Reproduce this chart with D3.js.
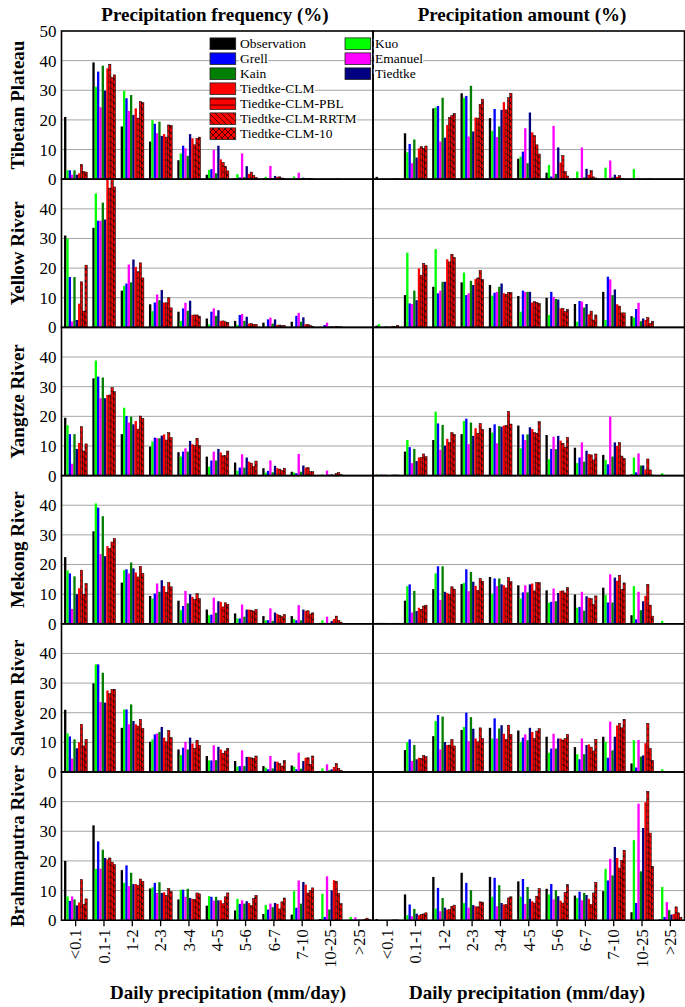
<!DOCTYPE html>
<html>
<head>
<meta charset="utf-8">
<script src="https://cdn.jsdelivr.net/npm/d3@7"></script>
<style>
  body { margin: 0; background: #fff; }
  svg { display: block; font-family: "Liberation Serif", "Times New Roman", serif; }
  svg text { font-family: "Liberation Serif", "Times New Roman", serif; }
</style>
</head>
<body>
<svg id="chart" width="685" height="1007"></svg>
<script>
// ---- data ----
const categories = ["<0.1", "0.1-1", "1-2", "2-3", "3-4", "4-5", "5-6", "6-7", "7-10", "10-25", ">25"];
// bar order inside each group
const seriesNames = ["Observation", "Kuo", "Grell", "Emanuel", "Kain", "Tiedtke",
  "Tiedtke-CLM", "Tiedtke-CLM-PBL", "Tiedtke-CLM-RRTM", "Tiedtke-CLM-10"];
const legendCol1 = ["Observation", "Grell", "Kain", "Tiedtke-CLM", "Tiedtke-CLM-PBL", "Tiedtke-CLM-RRTM", "Tiedtke-CLM-10"];
const legendCol2 = ["Kuo", "Emanuel", "Tiedtke"];
const regions = ["Tibetan Plateau", "Yellow River", "Yangtze River", "Mekong River", "Salween River", "Brahmaputra River"];
const columnTitles = ["Precipitation frequency (%)", "Precipitation amount (%)"];
const xTitle = "Daily precipitation (mm/day)";
const yTicksTop = [0, 10, 20, 30, 40, 50];
const yTicks = [0, 10, 20, 30, 40];

// rows = categories, columns = series (same order as seriesNames)
const tibetanFreq = [
  [21, 3, 3, 1.5, 3, 1.5, 2, 5, 2.6, 2.4],
  [39.4, 31.2, 36.3, 24.3, 38.3, 29.9, 37.4, 38.8, 34.3, 35.2],
  [17.8, 29.8, 27.3, 23, 28.4, 21.7, 23.9, 20.6, 26.2, 25.8],
  [12.7, 19.9, 18.7, 15.5, 19.4, 14.6, 15.2, 14.2, 18.3, 18.1],
  [6.4, 8.7, 11.3, 10.4, 7.9, 15.2, 13.8, 11.6, 13.8, 14.2],
  [1.5, 3.1, 3.4, 9.9, 2, 11.3, 6.7, 5.7, 4.4, 2.8],
  [0.3, 1.7, 0.6, 8.7, 0.7, 4.4, 1.8, 2.4, 1.3, 0.6],
  [0.2, 0.8, 0.3, 4.5, 0.2, 1.1, 0.8, 0.8, 0.4, 0.2],
  [0.1, 0.9, 0.2, 2.2, 0.2, 0.5, 0.3, 0.3, 0.2, 0.1],
  [0, 0.3, 0.1, 0.2, 0.1, 0.1, 0.1, 0.1, 0.1, 0],
  [0, 0, 0, 0, 0, 0, 0, 0, 0, 0]
];
const tibetanAmount = [
  [0.8, 0.1, 0.1, 0.1, 0.1, 0.1, 0.1, 0.1, 0.1, 0.1],
  [15.5, 9.1, 11.9, 5.4, 13.4, 7.3, 10.4, 11, 10.4, 11.2],
  [23.9, 24.2, 24.7, 12.7, 27.5, 14, 18.3, 20.8, 21.5, 22.2],
  [29, 27.5, 28.1, 14.4, 31.5, 16.1, 20.8, 20.6, 25.3, 27],
  [20.6, 16.3, 23.7, 14.2, 17.8, 23.4, 26, 23.4, 27.5, 29],
  [6.9, 7.6, 9.3, 17.2, 5.4, 22.5, 15.8, 14.7, 11.6, 8.5],
  [2.2, 4.8, 0.9, 18, 1.8, 10.7, 5.6, 8, 2.6, 1.1],
  [0.2, 2.6, 0.3, 10.7, 0.6, 3.5, 1.5, 2.9, 0.8, 0.4],
  [0.2, 3.9, 0.3, 6.3, 0.6, 1.5, 0.8, 1.2, 0.3, 0.1],
  [0, 3.4, 0.1, 0.3, 0.1, 0.1, 0.1, 0.1, 0.1, 0],
  [0, 0, 0, 0, 0, 0, 0, 0, 0, 0]
];
const yellowFreq = [
  [31, 30, 17, 2, 17, 2.5, 8, 15.4, 5.5, 21],
  [33.6, 45.2, 36, 36, 42.1, 36.4, 50.3, 47, 50.3, 47.4],
  [12.4, 14, 14.8, 21.2, 15.2, 22.9, 20.4, 18.8, 21.8, 16.7],
  [7.8, 5.5, 8.4, 11.1, 9.2, 12.6, 8.4, 8.3, 10, 6.6],
  [5.3, 2.2, 6.4, 8.3, 5.6, 9, 4.2, 4.2, 4.2, 3.8],
  [3, 1, 5.3, 6.4, 3.9, 5.8, 2.2, 2.2, 1.9, 1.7],
  [2.2, 0.8, 4.2, 4.5, 2.2, 3.6, 1.3, 1.3, 1, 1],
  [1.6, 0.3, 2.7, 3.3, 1.3, 2.7, 0.8, 0.8, 0.6, 0.6],
  [1.9, 0.2, 3.9, 4.9, 1.9, 3.4, 1.1, 1, 0.6, 0.4],
  [0.1, 0.1, 0.8, 1.6, 0.3, 0.4, 0.3, 0.3, 0.2, 0.2],
  [0, 0, 0, 0, 0, 0, 0, 0, 0, 0]
];
const yellowAmount = [
  [0.6, 1.1, 0.2, 0.1, 0.4, 0.2, 0.3, 0.4, 0.3, 0.7],
  [10.9, 25.2, 8.1, 7.9, 12.4, 9.2, 19.9, 17.6, 21.6, 21],
  [13.7, 26.4, 11.5, 12.4, 15.4, 15.4, 23, 22.1, 24.7, 23.6],
  [15.2, 18.5, 10.9, 11.5, 15.7, 14.3, 16.3, 16.7, 19.3, 16.2],
  [14.3, 10.7, 11.7, 12, 13.7, 14.8, 11.5, 11.2, 11.8, 11.8],
  [10.6, 5.3, 12.4, 12, 12, 12, 8.4, 8.7, 8.4, 8.1],
  [10, 4.2, 12, 10.3, 9.6, 9.4, 6.4, 6.4, 5.3, 6.1],
  [7.9, 1.9, 8.9, 8.7, 6.7, 7.9, 4.4, 5.5, 2.5, 4.2],
  [12, 2.5, 17.1, 16.2, 10.9, 12.8, 7.8, 7.2, 4.9, 4.9],
  [3.8, 3.3, 6.2, 8.3, 2.1, 3, 2.5, 3.3, 1.3, 2.1],
  [0, 0, 0, 0, 0, 0, 0, 0, 0, 0]
];
const yangtzeFreq = [
  [19.5, 17, 14, 4, 14, 9, 11, 16.5, 8.3, 10.7],
  [32.8, 38.8, 33.4, 26.1, 33.1, 26.1, 27.2, 27.2, 29.7, 28.3],
  [14, 22.9, 20.1, 17.9, 19.9, 17.3, 18.4, 15.7, 20.1, 19.3],
  [9.8, 11.5, 12.8, 12.6, 12.6, 13.5, 13.9, 12, 14.5, 12.8],
  [7.9, 6.4, 8.1, 9.2, 8.1, 11.7, 10.6, 10.1, 12.6, 10.1],
  [6.4, 3, 5.1, 8.1, 5.1, 9, 7.8, 6.7, 6.7, 8.3],
  [4.4, 1.6, 2.7, 7.2, 2.7, 6.1, 4.7, 4.2, 3, 4.9],
  [2.5, 1, 1.6, 5.1, 1.1, 3.3, 2.5, 2.2, 1.7, 2.5],
  [1.3, 1, 0.8, 7.3, 1.3, 3.4, 2.7, 2.7, 1.3, 1.3],
  [0.2, 0.4, 0.2, 1.7, 0.3, 0.4, 0.3, 0.7, 1, 0.4],
  [0, 0, 0, 0, 0, 0, 0, 0, 0, 0]
];
const yangtzeAmount = [
  [0.3, 0.3, 0.3, 0.3, 0.3, 0.2, 0.2, 0.2, 0.2, 0.2],
  [8.1, 12, 9.6, 4.2, 9, 4.9, 6.1, 6.1, 7.3, 6.4],
  [12, 21.6, 17.6, 8.7, 17.1, 10.1, 12.4, 11.1, 14.5, 13.9],
  [14, 18.4, 19.2, 10.6, 17.9, 13.4, 16, 14.3, 17.6, 15.6],
  [16.1, 14.5, 17.3, 10.9, 16.7, 16.5, 16.9, 16.9, 21.6, 17.4],
  [16.9, 9.2, 13.9, 12, 13.9, 16.3, 15.7, 14.5, 14.3, 18.2],
  [13.7, 5.5, 9, 13.1, 8.9, 13.4, 11.8, 10.9, 9.6, 12.9],
  [9.4, 4.2, 6.1, 11.2, 4.7, 8.4, 7.3, 7, 5.3, 7.3],
  [7, 5.3, 3.8, 19.9, 6.4, 11.2, 10, 11.2, 6.6, 5.8],
  [0.4, 6.1, 1.1, 7.5, 3.4, 3.4, 2.1, 5.6, 1.9, 0.2],
  [0, 0.8, 0, 0, 0, 0, 0, 0, 0, 0]
];
const mekongFreq = [
  [22.5, 18, 17, 5, 16, 10, 12, 18.1, 9.9, 13.6],
  [31.2, 40.6, 39.2, 23.5, 36.3, 22.8, 26.2, 25.4, 27.6, 28.8],
  [13.9, 18.1, 18.4, 17, 20.7, 18.7, 17.3, 15.8, 19.4, 17],
  [9.4, 8.5, 10.2, 13.6, 10.8, 14.7, 12.7, 10.6, 13.9, 12.5],
  [7.8, 4.6, 6, 11.1, 6.9, 10, 9.1, 8.2, 10.2, 8.5],
  [4.8, 2.9, 3.1, 8.8, 3.7, 7.6, 7.4, 5.7, 7.1, 6.6],
  [3.5, 1.8, 1.8, 6.5, 2.4, 4.8, 4.8, 4.6, 4.3, 4.8],
  [2.6, 1.2, 1.2, 5.2, 1, 3.8, 3.3, 2.9, 2.4, 3.1],
  [2.6, 1.6, 1.2, 6.3, 1.2, 4.8, 4.4, 4.4, 3.3, 3.7],
  [0.3, 1.2, 0.3, 2.4, 0.3, 0.9, 1.6, 2.6, 1.2, 0.6],
  [0, 0, 0, 0, 0, 0, 0, 0, 0, 0]
];
const mekongAmount = [
  [0.3, 0.3, 0.3, 0.3, 0.3, 0.2, 0.2, 0.2, 0.2, 0.2],
  [7.8, 12.7, 13.3, 3.8, 11.1, 4.3, 5.4, 4.9, 6, 6.3],
  [11.7, 17, 19.4, 8, 19.4, 10.8, 10.4, 9.9, 12.5, 11.7],
  [13.4, 13.8, 18.4, 11, 17.5, 14.2, 12.8, 11.3, 15.3, 14.4],
  [15.8, 10.2, 15.3, 12.7, 15.3, 13.3, 13, 12.1, 15.6, 14.2],
  [13, 8.5, 10.6, 13, 10.6, 13.3, 13.6, 11.1, 13.9, 13.9],
  [11.3, 7.1, 7.4, 11.9, 7.6, 10.4, 11.1, 11.1, 10.4, 12.2],
  [9.9, 5.4, 5.7, 10.8, 4.4, 9.3, 8.8, 8.5, 6.5, 9.4],
  [12.2, 9.7, 7.2, 16.7, 7.2, 15.6, 14.5, 16.4, 11.6, 13.8],
  [2.9, 12.7, 1.5, 10.8, 4.6, 7.6, 9.4, 13.3, 6.3, 2.6],
  [0, 1, 0, 0.2, 0, 0, 0, 0, 0, 0]
];
const salweenFreq = [
  [21, 13, 12, 4.5, 11, 8, 10, 16.1, 8.8, 11],
  [29.9, 36.3, 36.3, 23.6, 33.5, 23.4, 27.5, 26.4, 27.9, 27.9],
  [14.9, 21.1, 21.1, 16.1, 22.8, 17.2, 16.1, 15.5, 17.8, 14.7],
  [10.2, 11, 12.7, 13, 13.5, 15.2, 11.6, 10.2, 14, 11.6],
  [7.6, 5.7, 8.2, 10.2, 7.6, 11.6, 9.6, 8, 10.7, 9],
  [5.4, 3.9, 3.9, 9, 4, 8.5, 7.6, 6.3, 7.1, 8],
  [3.7, 1.8, 2, 7.3, 2, 5.1, 5.1, 4.8, 4.6, 5.4],
  [2, 1.5, 0.9, 5.4, 1.2, 3.5, 3.5, 2.8, 2, 3.9],
  [2.2, 1.8, 0.9, 6.5, 1.1, 3.7, 4.8, 4.8, 2.6, 5.4],
  [0.2, 1.2, 0.2, 2.6, 0.6, 0.9, 1.7, 2.9, 1.2, 0.6],
  [0, 0, 0, 0, 0, 0, 0, 0, 0, 0]
];
const salweenAmount = [
  [0.2, 0.2, 0.2, 0.2, 0.2, 0.2, 0.2, 0.2, 0.2, 0.2],
  [7.4, 10.1, 11, 3.7, 9.1, 4.3, 4.8, 4.6, 5.6, 5.2],
  [12.1, 17.2, 19.2, 7.6, 18.7, 10.1, 9.1, 9.1, 11, 8.8],
  [14.2, 15.2, 20, 10.4, 18.5, 14.6, 11.3, 10.2, 14.9, 11.3],
  [14.9, 11.3, 18.1, 11.3, 14.7, 15.8, 12.9, 11, 15.8, 12.7],
  [14, 10.1, 11.6, 12.7, 10.7, 14.9, 13.5, 11.3, 13.8, 14.6],
  [11.9, 6.5, 7.9, 12.9, 7.9, 11.3, 11.3, 10.8, 11.3, 12.7],
  [8.4, 6, 4.3, 11.3, 6, 9.1, 9.3, 8.4, 7.1, 11],
  [11.9, 10.2, 4.8, 17, 7.3, 11.9, 15.7, 16.4, 14.9, 17.8],
  [2.9, 10.7, 1.5, 10.8, 5.2, 5.6, 9.7, 16.4, 7.9, 3.9],
  [0, 0.9, 0, 0.3, 0, 0, 0, 0, 0, 0]
];
const brahmaputraFreq = [
  [20, 8, 6.5, 8, 7, 5, 6, 13.7, 5.3, 7.2],
  [32, 17.3, 26.6, 17.4, 23.8, 21, 20.5, 21, 19.6, 18.8],
  [16.9, 12.6, 18.5, 11.5, 16, 12.2, 12.2, 11.7, 13.9, 13.1],
  [10.7, 11.1, 12.6, 9.2, 12.8, 9.2, 9.4, 8.3, 10.7, 9.6],
  [7, 10.3, 10.3, 7.9, 10.6, 7.5, 7.2, 7, 9.2, 8.9],
  [4.9, 8.1, 7.9, 6.6, 7.9, 6.7, 6.7, 5.6, 7.9, 9.2],
  [3.3, 7.2, 5.5, 6.7, 5.6, 6.4, 5.8, 4.9, 7.3, 8.4],
  [2.1, 5.1, 3.6, 5.6, 4.4, 5.8, 5.5, 3.8, 6.2, 7.5],
  [1.9, 9.8, 4.2, 13.4, 5.6, 12.9, 12, 9.2, 10.1, 10.9],
  [0.4, 8.9, 1.1, 14.8, 3.6, 10.1, 13.5, 13.1, 9, 5.6],
  [0.1, 1.1, 0.2, 1, 0.2, 0.2, 0.2, 0.3, 0.7, 0.3]
];
const brahmaputraAmount = [
  [0.4, 0.1, 0.1, 0.1, 0.1, 0.1, 0.1, 0.1, 0.1, 0.1],
  [8.7, 1.7, 5.3, 1.3, 3.8, 2.2, 1.7, 1.9, 2.1, 2.5],
  [14.6, 3.9, 10.9, 3, 7.5, 4.2, 3.6, 3.6, 4.7, 5.1],
  [16, 5.8, 12.6, 4.2, 10.1, 5.1, 4.7, 4.5, 6.2, 6.1],
  [14.6, 7.9, 14.3, 4.7, 11.8, 5.8, 5.3, 5.3, 7.5, 7.9],
  [13.1, 7.9, 13.9, 5.5, 11.2, 7.2, 6.4, 5.8, 8.1, 10.7],
  [10.6, 8.7, 12.2, 7, 10.1, 8.1, 6.6, 5.8, 9.4, 12],
  [8.3, 7.5, 9.6, 6.7, 9.2, 8.5, 7.2, 5.3, 9.2, 12.8],
  [9.8, 17.3, 13.4, 20.7, 15.1, 24.7, 21, 17.6, 20.2, 23.6],
  [2.7, 27, 5.8, 39.3, 16.5, 31.1, 39.8, 43.5, 29.4, 18.2],
  [0.3, 11.2, 1.1, 6.1, 3.4, 1.9, 2.1, 4.5, 2.5, 1]
];

const panelData = [
  [tibetanFreq, tibetanAmount],
  [yellowFreq, yellowAmount],
  [yangtzeFreq, yangtzeAmount],
  [mekongFreq, mekongAmount],
  [salweenFreq, salweenAmount],
  [brahmaputraFreq, brahmaputraAmount]
];

// ---- styles / layout ----
const fills = {
  "Observation": "#000000", "Kuo": "#00ff00", "Grell": "#0000ff", "Emanuel": "#ff00ff",
  "Kain": "#008000", "Tiedtke": "#000080", "Tiedtke-CLM": "#ff0000",
  "Tiedtke-CLM-PBL": "url(#pbl)", "Tiedtke-CLM-RRTM": "url(#rrtm)", "Tiedtke-CLM-10": "url(#clm10)"
};
const hatched = new Set(["Tiedtke-CLM-PBL", "Tiedtke-CLM-RRTM", "Tiedtke-CLM-10"]);
const serif = "'Liberation Serif', 'Times New Roman', serif";

const colX = [61.5, 373];
const panelW = 311.5;
const plotTop = 31;
const rowH = 148.2;

const svg = d3.select("#chart");

// hatch patterns
const defs = svg.append("defs");
function makePattern(id, w, h, path) {
  const p = defs.append("pattern").attr("id", id)
    .attr("patternUnits", "userSpaceOnUse").attr("width", w).attr("height", h);
  p.append("rect").attr("width", w).attr("height", h).attr("fill", "#ff0000");
  p.append("path").attr("d", path).attr("stroke", "#000").attr("stroke-width", 0.7).attr("fill", "none");
}
makePattern("pbl", 6, 6, "M0,3H6");
makePattern("rrtm", 6, 6, "M0,0L6,6M-3,3L3,9M3,-3L9,3");
makePattern("clm10", 6, 6, "M0,0L6,6M6,0L0,6");

const x = d3.scaleBand().domain(categories).range([0, panelW]);
const xs = d3.scaleBand().domain(seriesNames)
  .range([x.step() * 0.09, x.step() * 0.91]);
const y = d3.scaleLinear().domain([0, 50]).range([rowH, 0]);

const gridLayer = svg.append("g");
const barLayer = svg.append("g");
const frameLayer = svg.append("g");

panelData.forEach((pair, r) => {
  pair.forEach((rows, c) => {
    const g0 = plotTop + r * rowH;
    // gridlines
    gridLayer.append("g").attr("transform", `translate(${colX[c]},${g0})`)
      .selectAll("line").data([10, 20, 30, 40]).join("line")
      .attr("x1", 0).attr("x2", panelW)
      .attr("y1", d => y(d)).attr("y2", d => y(d))
      .attr("stroke", "#a6a6a6").attr("stroke-width", 1);

    // bars
    const pg = barLayer.append("g").attr("transform", `translate(${colX[c]},${g0})`);
    const groups = pg.selectAll("g").data(categories).join("g")
      .attr("transform", d => `translate(${x(d)},0)`);
    groups.selectAll("rect")
      .data((cat, i) => seriesNames.map((s, j) => ({ s, v: rows[i][j] })))
      .join("rect")
      .attr("x", d => xs(d.s))
      .attr("width", xs.bandwidth())
      .attr("y", d => y(d.v))
      .attr("height", d => y(0) - y(d.v))
      .attr("fill", d => fills[d.s])
      .attr("stroke", d => hatched.has(d.s) ? "#000" : "none")
      .attr("stroke-width", 0.5);

    // frame
    frameLayer.append("rect")
      .attr("x", colX[c]).attr("y", g0)
      .attr("width", panelW).attr("height", rowH)
      .attr("fill", "none").attr("stroke", "#000").attr("stroke-width", 1.6);

    // y axis on left column
    if (c === 0) {
      const ax = d3.axisLeft(y).tickValues(r === 0 ? yTicksTop : yTicks)
        .tickSize(0).tickPadding(5);
      const ag = frameLayer.append("g").attr("transform", `translate(${colX[0]},${g0})`).call(ax)
        .attr("font-family", serif).attr("font-size", 17);
      ag.select(".domain").remove();
      ag.selectAll("text").style("font-family", serif).style("font-size", "17px");
    }

    // x axis on bottom row
    if (r === panelData.length - 1) {
      const ax = d3.axisBottom(x).tickSize(6).tickPadding(3);
      const ag = frameLayer.append("g").attr("transform", `translate(${colX[c]},${g0 + rowH})`).call(ax)
        .attr("font-family", serif).attr("font-size", 16.5);
      ag.select(".domain").remove();
      ag.selectAll("line").attr("stroke-width", 1.3);
      ag.selectAll("text")
        .style("font-family", serif).style("font-size", "16.5px")
        .attr("transform", "rotate(-90)")
        .attr("text-anchor", "end")
        .attr("x", -9).attr("y", 0).attr("dy", "0.35em");
    }
  });

  // row label
  svg.append("text")
    .attr("transform", `translate(17,${plotTop + r * rowH + rowH / 2}) rotate(-90)`)
    .attr("text-anchor", "middle").attr("dy", "0.35em")
    .attr("font-size", 19).attr("font-weight", "bold")
    .text(regions[r]);
});

// column titles
const titleX = [215, 522];
const xTitleX = [228, 527];
columnTitles.forEach((t, c) => {
  svg.append("text").attr("x", titleX[c]).attr("y", 21)
    .attr("text-anchor", "middle").attr("font-size", 19).attr("font-weight", "bold").text(t);
  svg.append("text").attr("x", xTitleX[c]).attr("y", 999)
    .attr("text-anchor", "middle").attr("font-size", 19).attr("font-weight", "bold").text(xTitle);
});

// legend
const legend = svg.append("g");
function legendColumn(names, sx, tx) {
  names.forEach((n, i) => {
    const cy = 43.7 + i * 15;
    legend.append("rect").attr("x", sx).attr("y", cy - 5.8).attr("width", 25.7).attr("height", 11.6)
      .attr("fill", fills[n]).attr("stroke", "#222").attr("stroke-width", 0.8);
    legend.append("text").attr("x", tx).attr("y", cy).attr("dy", "0.35em")
      .attr("font-size", 13.5).attr("stroke", "#fff").attr("stroke-width", 3)
      .attr("paint-order", "stroke").text(n);
  });
}
legendColumn(legendCol1, 210, 240);
legendColumn(legendCol2, 345, 375);
</script>
</body>
</html>
